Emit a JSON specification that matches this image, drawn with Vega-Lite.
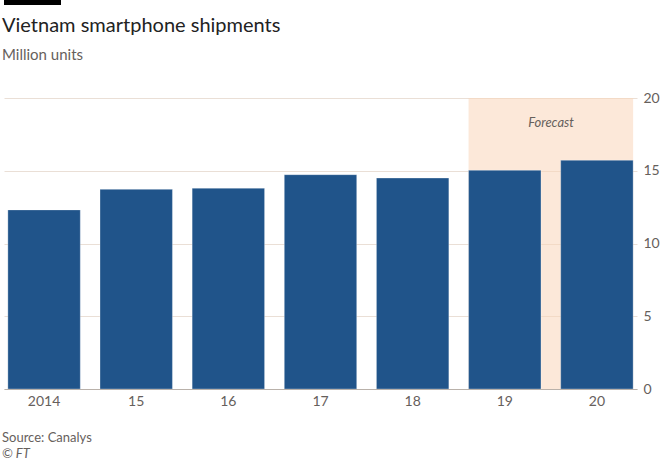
{
  "$schema": "https://vega.github.io/schema/vega-lite/v6.json",
  "background": "#ffffff",
  "padding": {"left": 2, "top": 0, "right": 0, "bottom": 0},
  "spacing": 28,
  "config": {
    "font": "Lato",
    "view": {"stroke": null}
  },
  "vconcat": [
    {
      "width": 57,
      "height": 5,
      "view": {"fill": "#000000", "stroke": null},
      "data": {"values": [{"t": 1}]},
      "mark": {"type": "point", "opacity": 0, "size": 1},
      "encoding": {},
      "title": {
        "text": "Vietnam smartphone shipments",
        "subtitle": "Million units",
        "orient": "bottom",
        "anchor": "start",
        "frame": "group",
        "dx": -2,
        "offset": 11,
        "fontSize": 20,
        "fontWeight": "normal",
        "color": "#222222",
        "subtitleFontSize": 15,
        "subtitleColor": "#66605c",
        "subtitlePadding": 12
      }
    },
    {
      "width": 633,
      "height": 291,
      "title": {
        "text": "Source: Canalys",
        "subtitle": "© FT",
        "orient": "bottom",
        "anchor": "start",
        "frame": "group",
        "dx": -2,
        "offset": 24,
        "fontSize": 13,
        "fontWeight": "normal",
        "color": "#66605c",
        "subtitleFontSize": 13,
        "subtitleColor": "#66605c",
        "subtitleFontStyle": "italic",
        "subtitlePadding": 3
      },
      "layer": [
        {
          "data": {"values": [{"from": "19", "to": "20", "top": 20}]},
          "mark": {"type": "rect", "color": "#f9d6b9", "opacity": 0.55},
          "encoding": {
            "x": {"field": "from", "type": "nominal", "bandPosition": 0,
                  "scale": {"domain": ["2014", "15", "16", "17", "18", "19", "20"], "paddingInner": 0.214, "paddingOuter": 0.042},
                  "axis": {"title": null, "labelAngle": 0, "ticks": false, "domain": true, "domainColor": "#b9b1aa", "domainWidth": 1,
                           "labelFontSize": 14, "labelColor": "#66605c", "labelPadding": 5, "grid": false}},
            "x2": {"field": "to", "bandPosition": 1},
            "y": {"field": "top", "type": "quantitative", "scale": {"domain": [0, 20]},
                  "axis": {"title": null, "orient": "right", "values": [0, 5, 10, 15, 20], "grid": true, "gridColor": "#eadfd6",
                           "ticks": false, "domain": false, "labelFontSize": 14, "labelColor": "#66605c", "labelPadding": 6,
                           "labelBaseline": "middle"}},
            "y2": {"datum": 0}
          }
        },
        {
          "data": {"values": [
            {"year": "2014", "shipments": 12.31},
            {"year": "15", "shipments": 13.72},
            {"year": "16", "shipments": 13.8},
            {"year": "17", "shipments": 14.73},
            {"year": "18", "shipments": 14.5},
            {"year": "19", "shipments": 15.03},
            {"year": "20", "shipments": 15.72}
          ]},
          "mark": {"type": "bar", "color": "#20548a", "stroke": "#ffffff", "strokeWidth": 0.6, "strokeOpacity": 0.5},
          "encoding": {
            "x": {"field": "year", "type": "nominal",
                  "scale": {"domain": ["2014", "15", "16", "17", "18", "19", "20"], "paddingInner": 0.214, "paddingOuter": 0.042},
                  "axis": {"title": null, "labelAngle": 0, "ticks": false, "domain": true, "domainColor": "#b9b1aa", "domainWidth": 1,
                           "labelFontSize": 14, "labelColor": "#66605c", "labelPadding": 5, "grid": false}},
            "y": {"field": "shipments", "type": "quantitative",
                  "scale": {"domain": [0, 20]},
                  "axis": {"title": null, "orient": "right", "values": [0, 5, 10, 15, 20], "grid": true, "gridColor": "#eadfd6",
                           "ticks": false, "domain": false, "labelFontSize": 14, "labelColor": "#66605c", "labelPadding": 6,
                           "labelBaseline": "middle"}}
          }
        },
        {
          "data": {"values": [{"from": "19", "label": "Forecast", "ypos": 18.3}]},
          "mark": {"type": "text", "fontStyle": "italic", "fontSize": 13, "color": "#66605c", "dx": 10, "baseline": "middle", "align": "center"},
          "encoding": {
            "x": {"field": "from", "type": "nominal", "bandPosition": 1,
                  "axis": {"title": null, "labelAngle": 0, "ticks": false, "domain": true, "domainColor": "#b9b1aa", "domainWidth": 1,
                           "labelFontSize": 14, "labelColor": "#66605c", "labelPadding": 5, "grid": false}},
            "y": {"field": "ypos", "type": "quantitative",
                  "axis": {"title": null, "orient": "right", "values": [0, 5, 10, 15, 20], "grid": true, "gridColor": "#eadfd6",
                           "ticks": false, "domain": false, "labelFontSize": 14, "labelColor": "#66605c", "labelPadding": 6,
                           "labelBaseline": "middle"}},
            "text": {"field": "label"}
          }
        }
      ]
    }
  ]
}
